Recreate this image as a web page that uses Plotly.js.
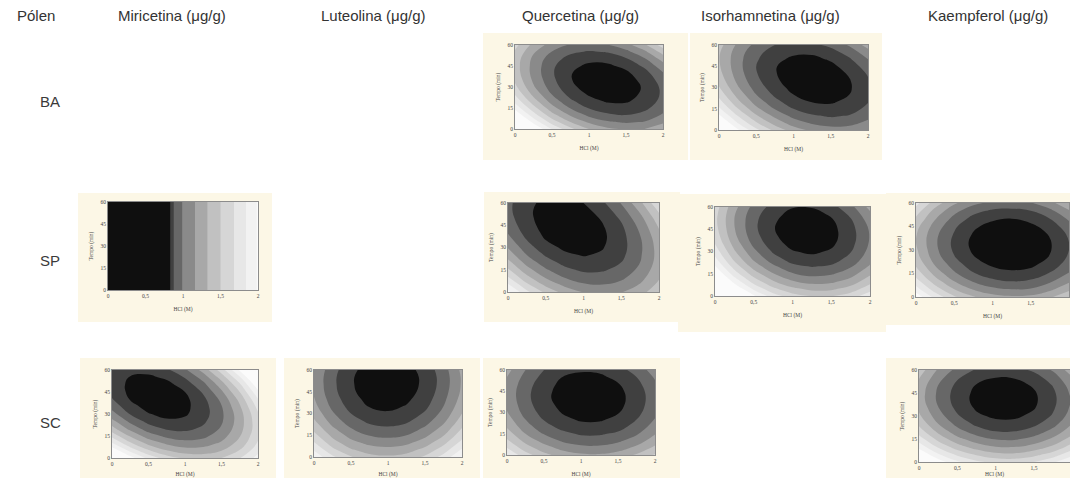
<!DOCTYPE html>
<html><head><meta charset="utf-8">
<script src="https://cdn.plot.ly/plotly-3.0.1.min.js"></script>
<style>html,body{margin:0;padding:0;background:#fff;}#chart{width:1070px;height:478px;}</style>
</head><body><div id="chart"></div>
<script>
// ---- data ----
const compounds = ['Miricetina (μg/g)', 'Luteolina (μg/g)', 'Quercetina (μg/g)', 'Isorhamnetina (μg/g)', 'Kaempferol (μg/g)'];
const pollen = ['BA', 'SP', 'SC'];
const pollenHeader = 'Pólen';
const hcl = [0, 0.25, 0.5, 0.75, 1, 1.25, 1.5, 1.75, 2];
const tempo = [0, 5, 10, 15, 20, 25, 30, 35, 40, 45, 50, 55, 60];
const hclFine = [0,0.1,0.2,0.3,0.4,0.5,0.6,0.7,0.8,0.9,1.0,1.1,1.2,1.3,1.4,1.5,1.6,1.7,1.8,1.9,2.0];
const tempoEnds = [0, 60];
const hclTickVals = [0, 0.5, 1, 1.5, 2];
const hclTickText = ['0', '0,5', '1', '1,5', '2'];
const tempoTickVals = [0, 15, 30, 45, 60];
const xTitle = 'HCl (M)';
const yTitle = 'Tempo (min)';

const zBA_Quercetina = [
 [20.1, 15.8, 12.3, 9.6, 7.6, 6.3, 5.8, 6.0, 7.0],
 [17.6, 13.5, 10.1, 7.6, 5.7, 4.6, 4.2, 4.5, 5.7],
 [15.4, 11.5, 8.2, 5.8, 4.0, 3.1, 2.8, 3.3, 4.6],
 [13.5, 9.8, 6.6, 4.3, 2.7, 1.9, 1.8, 2.4, 3.8],
 [11.9, 8.3, 5.3, 3.1, 1.7, 1.0, 1.0, 1.8, 3.3],
 [10.6, 7.1, 4.3, 2.2, 1.0, 0.4, 0.6, 1.5, 3.1],
 [9.6, 6.2, 3.6, 1.6, 0.5, 0.1, 0.4, 1.4, 3.2],
 [8.9, 5.7, 3.2, 1.3, 0.3, 0.1, 0.5, 1.7, 3.6],
 [8.5, 5.4, 3.0, 1.3, 0.4, 0.3, 0.9, 2.2, 4.3],
 [8.4, 5.4, 3.1, 1.6, 0.9, 0.9, 1.6, 3.1, 5.3],
 [8.5, 5.6, 3.5, 2.2, 1.6, 1.7, 2.6, 4.2, 6.6],
 [9.0, 6.2, 4.3, 3.1, 2.6, 2.9, 3.9, 5.6, 8.2],
 [9.7, 7.1, 5.3, 4.2, 3.9, 4.3, 5.4, 7.3, 10.0]];
const zBA_Isorhamnetina = [
 [18.1, 14.3, 11.2, 8.7, 6.8, 5.6, 5.1, 5.2, 5.9],
 [16.1, 12.4, 9.4, 7.0, 5.2, 4.2, 3.7, 3.9, 4.8],
 [14.3, 10.8, 7.8, 5.6, 3.9, 3.0, 2.6, 2.9, 3.9],
 [12.7, 9.3, 6.4, 4.3, 2.8, 1.9, 1.7, 2.1, 3.2],
 [11.4, 8.0, 5.3, 3.3, 1.9, 1.1, 1.0, 1.6, 2.7],
 [10.2, 7.0, 4.4, 2.5, 1.2, 0.5, 0.5, 1.2, 2.5],
 [9.3, 6.2, 3.7, 1.9, 0.7, 0.2, 0.3, 1.0, 2.5],
 [8.6, 5.6, 3.2, 1.5, 0.4, 0.0, 0.2, 1.1, 2.6],
 [8.1, 5.2, 2.9, 1.3, 0.4, 0.1, 0.4, 1.4, 3.0],
 [7.8, 5.0, 2.8, 1.3, 0.5, 0.3, 0.8, 1.9, 3.6],
 [7.7, 5.0, 3.0, 1.6, 0.9, 0.8, 1.4, 2.6, 4.4],
 [7.8, 5.2, 3.3, 2.1, 1.5, 1.5, 2.2, 3.5, 5.4],
 [8.2, 5.7, 3.9, 2.8, 2.3, 2.4, 3.2, 4.6, 6.7]];
const zSP_Miricetina = [
 [0,0,0,0,0,0,0,0,0,3.4,4.3,5.2,6.2,7.2,8.0,9.0,9.8,10.8,11.8,12.8,14.0],
 [0,0,0,0,0,0,0,0,0,3.4,4.3,5.2,6.2,7.2,8.0,9.0,9.8,10.8,11.8,12.8,14.0]];
const zSP_Quercetina = [
 [14.4, 11.2, 8.8, 7.0, 5.9, 5.6, 5.9, 7.0, 8.7],
 [12.6, 9.5, 7.2, 5.6, 4.6, 4.4, 4.9, 6.1, 8.0],
 [10.9, 8.0, 5.8, 4.3, 3.5, 3.4, 4.0, 5.4, 7.4],
 [9.4, 6.6, 4.6, 3.2, 2.5, 2.6, 3.3, 4.8, 7.0],
 [8.1, 5.4, 3.5, 2.3, 1.7, 1.9, 2.8, 4.4, 6.7],
 [6.9, 4.4, 2.6, 1.5, 1.1, 1.4, 2.4, 4.2, 6.6],
 [5.9, 3.5, 1.8, 0.9, 0.6, 1.1, 2.2, 4.1, 6.7],
 [5.0, 2.8, 1.2, 0.5, 0.3, 0.9, 2.2, 4.2, 6.9],
 [4.3, 2.2, 0.8, 0.2, 0.2, 0.9, 2.3, 4.5, 7.3],
 [3.8, 1.8, 0.6, 0.1, 0.2, 1.1, 2.6, 4.9, 7.9],
 [3.4, 1.6, 0.5, 0.1, 0.4, 1.4, 3.1, 5.5, 8.6],
 [3.2, 1.5, 0.6, 0.3, 0.7, 1.9, 3.7, 6.3, 9.5],
 [3.2, 1.6, 0.8, 0.7, 1.2, 2.5, 4.5, 7.2, 10.6]];
const zSP_Isorhamnetina = [
 [21.9, 17.6, 14.2, 11.6, 9.9, 9.1, 9.1, 10.0, 11.8],
 [19.6, 15.4, 12.0, 9.5, 7.9, 7.1, 7.2, 8.2, 10.1],
 [17.5, 13.4, 10.1, 7.7, 6.1, 5.4, 5.6, 6.6, 8.6],
 [15.7, 11.6, 8.4, 6.1, 4.5, 3.9, 4.2, 5.3, 7.3],
 [14.1, 10.1, 6.9, 4.7, 3.2, 2.7, 3.0, 4.2, 6.2],
 [12.8, 8.8, 5.7, 3.5, 2.1, 1.7, 2.1, 3.3, 5.4],
 [11.7, 7.8, 4.8, 2.6, 1.3, 0.9, 1.4, 2.7, 4.9],
 [10.8, 7.0, 4.0, 1.9, 0.7, 0.4, 0.9, 2.3, 4.6],
 [10.2, 6.4, 3.5, 1.5, 0.4, 0.1, 0.7, 2.1, 4.5],
 [9.8, 6.1, 3.2, 1.3, 0.3, 0.0, 0.7, 2.2, 4.6],
 [9.6, 6.0, 3.2, 1.4, 0.4, 0.2, 0.9, 2.5, 5.0],
 [9.7, 6.1, 3.4, 1.7, 0.7, 0.6, 1.4, 3.1, 5.6],
 [10.0, 6.5, 3.9, 2.2, 1.3, 1.3, 2.2, 3.9, 6.5]];
const zSP_Kaempferol = [
 [11.6, 9.2, 7.4, 6.1, 5.3, 5.0, 5.1, 5.8, 7.0],
 [10.1, 7.8, 6.0, 4.7, 3.9, 3.6, 3.7, 4.5, 5.7],
 [8.9, 6.6, 4.8, 3.5, 2.7, 2.4, 2.6, 3.4, 4.6],
 [7.9, 5.6, 3.8, 2.5, 1.8, 1.5, 1.7, 2.5, 3.7],
 [7.1, 4.8, 3.1, 1.8, 1.1, 0.8, 1.0, 1.8, 3.0],
 [6.5, 4.2, 2.5, 1.3, 0.6, 0.3, 0.5, 1.3, 2.6],
 [6.2, 3.9, 2.2, 1.0, 0.3, 0.1, 0.3, 1.1, 2.4],
 [6.0, 3.8, 2.1, 0.9, 0.2, 0.0, 0.3, 1.1, 2.4],
 [6.1, 3.9, 2.3, 1.1, 0.4, 0.2, 0.5, 1.3, 2.6],
 [6.4, 4.3, 2.6, 1.4, 0.8, 0.6, 0.9, 1.7, 3.1],
 [7.0, 4.9, 3.2, 2.0, 1.4, 1.2, 1.6, 2.4, 3.8],
 [7.8, 5.6, 4.0, 2.8, 2.2, 2.1, 2.4, 3.3, 4.7],
 [8.8, 6.6, 5.0, 3.9, 3.3, 3.2, 3.5, 4.4, 5.8]];
const zSC_Miricetina = [
 [18.3, 14.7, 11.9, 10.0, 8.9, 8.6, 9.2, 10.7, 13.0],
 [15.3, 12.0, 9.4, 7.7, 6.8, 6.8, 7.6, 9.3, 11.9],
 [12.6, 9.5, 7.1, 5.7, 5.0, 5.2, 6.3, 8.2, 11.0],
 [10.3, 7.4, 5.2, 4.0, 3.6, 4.0, 5.3, 7.5, 10.5],
 [8.2, 5.5, 3.6, 2.6, 2.4, 3.1, 4.6, 7.0, 10.2],
 [6.5, 4.0, 2.3, 1.5, 1.6, 2.5, 4.2, 6.8, 10.3],
 [5.0, 2.7, 1.3, 0.7, 1.0, 2.1, 4.1, 6.9, 10.6],
 [3.8, 1.8, 0.6, 0.3, 0.8, 2.1, 4.3, 7.4, 11.3],
 [2.9, 1.1, 0.2, 0.1, 0.8, 2.4, 4.8, 8.1, 12.3],
 [2.4, 0.8, 0.1, 0.3, 1.2, 3.0, 5.7, 9.2, 13.6],
 [2.2, 0.8, 0.3, 0.7, 1.9, 3.9, 6.8, 10.5, 15.1],
 [2.3, 1.1, 0.9, 1.5, 2.9, 5.1, 8.3, 12.2, 17.0],
 [2.6, 1.7, 1.7, 2.5, 4.1, 6.6, 10.0, 14.2, 19.2]];
const zSC_Luteolina = [
 [13.6, 11.1, 9.3, 8.2, 7.9, 8.3, 9.5, 11.4, 14.1],
 [12.2, 9.6, 7.8, 6.8, 6.5, 6.9, 8.1, 10.0, 12.6],
 [10.9, 8.3, 6.5, 5.5, 5.2, 5.6, 6.8, 8.7, 11.3],
 [9.7, 7.2, 5.4, 4.3, 4.0, 4.4, 5.6, 7.5, 10.2],
 [8.7, 6.2, 4.4, 3.3, 3.0, 3.4, 4.6, 6.5, 9.2],
 [7.8, 5.3, 3.5, 2.4, 2.1, 2.5, 3.7, 5.6, 8.3],
 [7.1, 4.6, 2.8, 1.7, 1.4, 1.8, 3.0, 4.9, 7.6],
 [6.5, 4.0, 2.2, 1.1, 0.8, 1.3, 2.4, 4.4, 7.0],
 [6.1, 3.6, 1.8, 0.7, 0.4, 0.9, 2.0, 4.0, 6.6],
 [5.8, 3.3, 1.5, 0.4, 0.1, 0.6, 1.7, 3.7, 6.3],
 [5.7, 3.2, 1.4, 0.3, 0.0, 0.4, 1.6, 3.5, 6.2],
 [5.7, 3.2, 1.4, 0.3, 0.0, 0.4, 1.6, 3.5, 6.2],
 [5.9, 3.4, 1.6, 0.5, 0.2, 0.6, 1.8, 3.7, 6.4]];
const zSC_Quercetina = [
 [12.2, 9.9, 8.1, 6.9, 6.3, 6.2, 6.7, 7.8, 9.4],
 [10.8, 8.4, 6.7, 5.5, 4.9, 4.8, 5.3, 6.4, 8.0],
 [9.5, 7.1, 5.4, 4.2, 3.6, 3.6, 4.1, 5.2, 6.8],
 [8.4, 6.0, 4.3, 3.2, 2.6, 2.6, 3.1, 4.2, 5.9],
 [7.4, 5.1, 3.4, 2.3, 1.7, 1.7, 2.2, 3.4, 5.1],
 [6.7, 4.4, 2.7, 1.6, 1.0, 1.0, 1.6, 2.8, 4.5],
 [6.1, 3.8, 2.2, 1.1, 0.5, 0.5, 1.1, 2.3, 4.0],
 [5.7, 3.5, 1.8, 0.8, 0.2, 0.2, 0.8, 2.0, 3.8],
 [5.5, 3.3, 1.6, 0.6, 0.1, 0.1, 0.7, 1.9, 3.7],
 [5.5, 3.3, 1.7, 0.6, 0.1, 0.2, 0.8, 2.0, 3.8],
 [5.7, 3.5, 1.9, 0.8, 0.3, 0.4, 1.1, 2.3, 4.1],
 [6.0, 3.9, 2.3, 1.2, 0.8, 0.9, 1.6, 2.8, 4.6],
 [6.5, 4.4, 2.8, 1.8, 1.4, 1.5, 2.2, 3.4, 5.2]];
const zSC_Kaempferol = [
 [17.9, 14.9, 12.7, 11.2, 10.3, 10.2, 10.8, 12.1, 14.1],
 [15.5, 12.6, 10.4, 8.9, 8.0, 7.9, 8.6, 9.9, 11.9],
 [13.4, 10.5, 8.3, 6.8, 6.0, 5.9, 6.6, 7.9, 9.9],
 [11.6, 8.7, 6.5, 5.1, 4.3, 4.2, 4.9, 6.3, 8.3],
 [10.0, 7.2, 5.0, 3.6, 2.8, 2.8, 3.5, 4.9, 7.0],
 [8.8, 6.0, 3.9, 2.4, 1.7, 1.7, 2.4, 3.8, 6.0],
 [7.9, 5.1, 3.0, 1.5, 0.9, 0.9, 1.6, 3.0, 5.2],
 [7.3, 4.5, 2.4, 1.0, 0.4, 0.4, 1.1, 2.6, 4.8],
 [6.9, 4.1, 2.1, 0.7, 0.1, 0.1, 0.9, 2.4, 4.6],
 [6.9, 4.1, 2.1, 0.8, 0.2, 0.2, 1.0, 2.5, 4.8],
 [7.1, 4.4, 2.4, 1.1, 0.5, 0.6, 1.4, 2.9, 5.2],
 [7.7, 5.0, 3.0, 1.7, 1.2, 1.3, 2.1, 3.6, 5.9],
 [8.5, 5.8, 3.9, 2.6, 2.1, 2.2, 3.1, 4.6, 6.9]];

// ---- layout / style ----
const W = 1070, H = 478;
const cream = '#fcf7e6';
const bandScale = [[0,'#0f0f0f'],[1/9,'#404040'],[2/9,'#676767'],[3/9,'#8a8a8a'],[4/9,'#a8a8a8'],
  [5/9,'#c1c1c1'],[6/9,'#d6d6d6'],[7/9,'#e7e7e7'],[8/9,'#f2f2f2'],[1,'#fbfbfb']];

// plot: [left, right, top, bottom] px ; bg: cream card [left, right, top, bottom] px
const panels = [
 {z: zBA_Quercetina,    x: hcl,     y: tempo,     plot:[515,663,45,129],  bg:[483,688,33,160],  size:1.6},
 {z: zBA_Isorhamnetina, x: hcl,     y: tempo,     plot:[719,868,45,130],  bg:[690,882,33,160],  size:1.6},
 {z: zSP_Miricetina,    x: hclFine, y: tempoEnds, plot:[108,258,202,290], bg:[78,272,193,322],  size:1.6, start:1},
 {z: zSP_Quercetina,    x: hcl,     y: tempo,     plot:[508,659,203,292], bg:[484,680,192,322], size:1.6},
 {z: zSP_Isorhamnetina, x: hcl,     y: tempo,     plot:[715,870,207,296], bg:[678,886,194,332], size:1.6},
 {z: zSP_Kaempferol,    x: hcl,     y: tempo,     plot:[916,1069,203,297],bg:[886,1070,193,325],size:1.2},
 {z: zSC_Miricetina,    x: hcl,     y: tempo,     plot:[112,258,370,458], bg:[80,276,358,478],  size:1.6},
 {z: zSC_Luteolina,     x: hcl,     y: tempo,     plot:[314,462,370,457], bg:[284,480,358,478], size:1.6},
 {z: zSC_Quercetina,    x: hcl,     y: tempo,     plot:[507,655,370,455], bg:[483,680,358,478], size:1.6},
 {z: zSC_Kaempferol,    x: hcl,     y: tempo,     plot:[919,1070,370,462],bg:[886,1070,358,478],size:1.6, xr:[0,1.97]}
];

const tickFont = {family:'Liberation Serif, serif', size:5.5, color:'#444'};
const traces = [];
const layout = {
  width: W, height: H, margin:{l:0,r:0,t:0,b:0}, showlegend:false,
  paper_bgcolor:'#ffffff', plot_bgcolor:'#ffffff',
  shapes: [], annotations: [],
  font:{family:'Liberation Sans, Arial, sans-serif', color:'#333'}
};

panels.forEach((p, i) => {
  const n = i + 1, sfx = n === 1 ? '' : String(n);
  const st = p.start !== undefined ? p.start : 1.2;
  traces.push({
    type:'contour', x:p.x, y:p.y, z:p.z, xaxis:'x'+sfx, yaxis:'y'+sfx,
    autocontour:false,
    contours:{start:st, end:st+8*p.size, size:p.size, coloring:'fill', showlines:false},
    colorscale:bandScale, showscale:false, line:{width:0, smoothing:1.3}, hoverinfo:'skip'
  });
  layout['xaxis'+sfx] = {
    domain:[p.plot[0]/W, p.plot[1]/W], range:p.xr || [0,2], anchor:'y'+sfx,
    tickmode:'array', tickvals:hclTickVals, ticktext:hclTickText, ticks:'',
    showline:true, mirror:true, linecolor:'#8c8c8c', linewidth:1,
    showgrid:false, zeroline:false, tickfont:tickFont, fixedrange:true,
    title:{text:xTitle, font:tickFont, standoff:9}
  };
  layout['yaxis'+sfx] = {
    domain:[1-p.plot[3]/H, 1-p.plot[2]/H], range:[0,60], anchor:'x'+sfx,
    tickmode:'array', tickvals:tempoTickVals, ticks:'',
    showline:true, mirror:true, linecolor:'#8c8c8c', linewidth:1,
    showgrid:false, zeroline:false, tickfont:tickFont, fixedrange:true,
    title:{text:yTitle, font:tickFont, standoff:6}
  };
  layout.shapes.push({type:'rect', xref:'paper', yref:'paper', layer:'below',
    x0:p.bg[0]/W, x1:p.bg[1]/W, y0:1-p.bg[3]/H, y1:1-p.bg[2]/H,
    fillcolor:cream, line:{width:0}});
});

const headerFont = {family:'Liberation Sans, Arial, sans-serif', size:15, color:'#333'};
const headerX = [172, 373, 580, 770, 988];
layout.annotations.push({xref:'paper', yref:'paper', x:36/W, y:1-16/H, text:pollenHeader,
  showarrow:false, xanchor:'center', yanchor:'middle', font:headerFont});
compounds.forEach((c, i) => layout.annotations.push({xref:'paper', yref:'paper', x:headerX[i]/W, y:1-16/H,
  text:c, showarrow:false, xanchor:'center', yanchor:'middle', font:headerFont}));
const rowY = [102, 260, 422];
pollen.forEach((r, i) => layout.annotations.push({xref:'paper', yref:'paper', x:38/W, y:1-rowY[i]/H,
  text:r, showarrow:false, xanchor:'left', yanchor:'middle',
  font:{family:'Liberation Sans, Arial, sans-serif', size:15, color:'#3a3a3a'}}));

Plotly.newPlot('chart', traces, layout, {displayModeBar:false, staticPlot:true});
</script></body></html>
